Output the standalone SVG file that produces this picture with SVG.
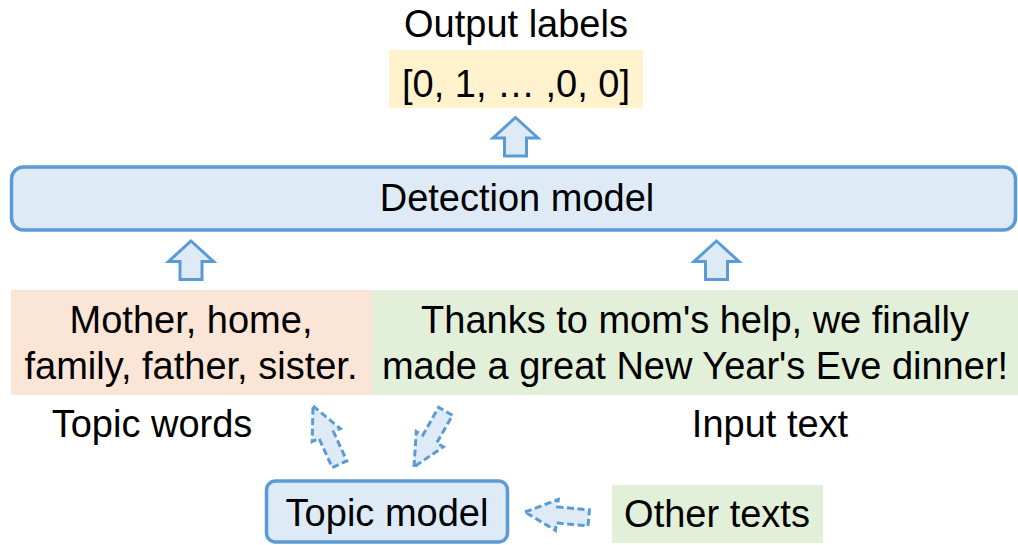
<svg xmlns="http://www.w3.org/2000/svg" width="1018" height="545" viewBox="0 0 1018 545">
  <style>
    text { font-family: "Liberation Sans", Arial, sans-serif; font-size: 38px; fill: #000; text-anchor: middle; }
    .model { fill: #DEEBF7; stroke: #5B9BD5; stroke-width: 3.5; }
    .flow { fill: #DEEBF7; stroke: #5B9BD5; stroke-width: 3; stroke-linejoin: miter; }
    .dashed { fill: #DEEBF7; stroke: #5B9BD5; stroke-width: 3; stroke-dasharray: 7 3.5; }
  </style>
  <defs>
    <!-- block arrow pointing up, tip at the origin -->
    <path id="upArrow" d="M0,0 L22.5,20.5 L11,20.5 L11,38.5 L-11,38.5 L-11,20.5 L-22.5,20.5 Z"/>
    <!-- slanted arrow used for the topic-model flows, tip at the origin -->
    <path id="dashArrow" d="M0,0 L15.5,32 L8,32 L8,64 L-8,64 L-8,32 L-15.5,32 Z"/>
  </defs>

  <g id="output-labels">
    <text x="516" y="37">Output labels</text>
    <rect x="389" y="50" width="254" height="58" fill="#FFF2CC"/>
    <text x="516" y="97">[0, 1, … ,0, 0]</text>
  </g>

  <g id="detection-model">
    <rect class="model" x="11.5" y="167" width="1004" height="63" rx="12"/>
    <text x="517" y="211">Detection model</text>
  </g>

  <g id="topic-words">
    <rect x="11" y="290" width="361" height="105" fill="#FBE5D6"/>
    <text x="191" y="333">Mother, home,</text>
    <text x="191" y="379">family, father, sister.</text>
    <text x="152" y="437">Topic words</text>
  </g>

  <g id="input-text">
    <rect x="372" y="290" width="646" height="105" fill="#E2F0D9"/>
    <text x="695" y="333">Thanks to mom's help, we finally</text>
    <text x="695" y="379">made a great New Year's Eve dinner!</text>
    <text x="770" y="437">Input text</text>
  </g>

  <g id="topic-model">
    <rect class="model" x="266.5" y="481" width="241" height="61" rx="9"/>
    <text x="387" y="526">Topic model</text>
  </g>

  <g id="other-texts">
    <rect x="612" y="485" width="211" height="58" fill="#E2F0D9"/>
    <text x="717" y="527">Other texts</text>
  </g>

  <g id="connectors">
    <use href="#upArrow" class="flow" transform="translate(515.5,117.5)"/>
    <use href="#upArrow" class="flow" transform="translate(191,241)"/>
    <use href="#upArrow" class="flow" transform="translate(716.5,241)"/>
    <use href="#dashArrow" class="dashed" transform="translate(313,406) rotate(-24.5)"/>
    <use href="#dashArrow" class="dashed" transform="translate(414,467) rotate(-150.5)"/>
    <use href="#dashArrow" class="dashed" transform="translate(525,512) rotate(-84.7)"/>
  </g>
</svg>
